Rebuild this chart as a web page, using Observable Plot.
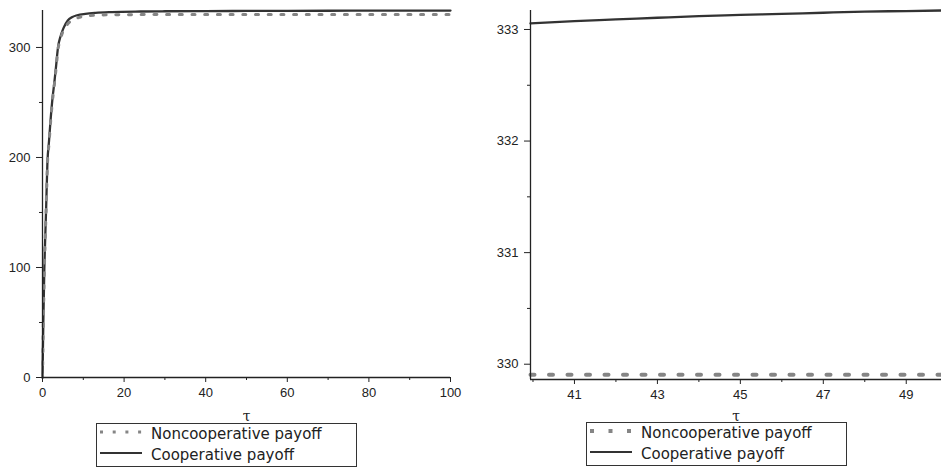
<!DOCTYPE html>
<html>
<head>
<meta charset="utf-8">
<script src="https://cdn.jsdelivr.net/npm/d3@7"></script>
<script src="https://cdn.jsdelivr.net/npm/@observablehq/plot@0.6"></script>
<style>
  html, body { margin: 0; padding: 0; background: #fff; }
  #wrap { position: relative; width: 941px; height: 470px; overflow: hidden; background: #fff; }
  .panel { position: absolute; top: 0; }
  .legend { position: absolute; box-sizing: border-box; border: 1px solid #333; background: #fff;
            font-family: "DejaVu Sans", sans-serif; font-size: 15px; color: #222; }
  .row { position: relative; height: 21px; line-height: 21px; white-space: nowrap; }
  .row svg { position: absolute; left: 3px; top: 0; }
  .row span { position: absolute; top: 0; }
</style>
</head>
<body>
<div id="wrap">
  <div id="left" class="panel" style="left:0px"></div>
  <div id="right" class="panel" style="left:470px"></div>
</div>
<script>
// ---- data ----
const seriesNames = ["Noncooperative payoff", "Cooperative payoff"];
const axisLabel = "τ";

// left panel: full horizon
const leftTau      = [0, 0.2, 0.45, 0.65, 0.9, 1.2, 1.6, 2.0, 2.4, 2.9, 3.3, 3.8, 4.5, 5.2, 6.2, 7.2, 8.5, 10.5, 13, 17, 24, 30, 40, 50, 60, 70, 80, 90, 100];
const leftCoop     = [0, 49, 99, 125, 155, 195, 215, 235, 252, 268, 282, 300, 311, 318, 324.5, 327.5, 329.3, 330.6, 331.5, 332.2, 332.7, 332.9, 333.055, 333.17, 333.28, 333.37, 333.44, 333.5, 333.55];
const leftNoncoop  = [0, 48, 98, 124, 154, 193, 213, 233, 250, 266, 280, 298, 309, 316, 321.5, 324.5, 326.8, 328.5, 329.3, 329.7, 329.85, 329.9, 329.91, 329.91, 329.91, 329.91, 329.91, 329.91, 329.91];
const leftXDomain  = [0, 100];
const leftYDomain  = [0, 333.6];
const leftXMajor   = [0, 20, 40, 60, 80, 100];
const leftXMinor   = [10, 30, 50, 70, 90];
const leftYMajor   = [0, 100, 200, 300];
const leftYMinor   = [50, 150, 250];

// right panel: zoom on 40..50
const rightTau     = [39.94, 41, 42, 43, 44, 45, 46, 47, 48, 49, 49.85];
const rightCoop    = [333.055, 333.075, 333.09, 333.105, 333.12, 333.13, 333.14, 333.15, 333.16, 333.165, 333.17];
const rightNoncoop = [329.906, 329.906, 329.906, 329.906, 329.906, 329.906, 329.906, 329.906, 329.906, 329.906, 329.906];
const rightXDomain = [39.94, 49.85];
const rightYDomain = [329.863, 333.17];
const rightXMajor  = [41, 43, 45, 47, 49];
const rightXMinor  = [40, 42, 44, 46, 48];
const rightYMajor  = [330, 331, 332, 333];
const rightYMinor  = [330.5, 331.5, 332.5];

const rows = (xs, ys) => xs.map((t, i) => ({t, v: ys[i]}));

function panel(o) {
  return Plot.plot({
    width: o.width, height: 432,
    marginLeft: o.ml, marginRight: o.mr, marginTop: 10, marginBottom: o.mb,
    style: {fontFamily: "Liberation Sans, Arial, sans-serif", fontSize: "13px", color: "#222", background: "transparent", overflow: "visible"},
    x: {domain: o.xd},
    y: {domain: o.yd},
    marks: [
      Plot.line(rows(o.tau, o.coop), {x: "t", y: "v", stroke: "#333", strokeWidth: 2.3, curve: "monotone-x"}),
      Plot.line(rows(o.tau, o.non), {x: "t", y: "v", stroke: "#858585", strokeWidth: o.dotW, strokeDasharray: o.dash, curve: "monotone-x"}),
      Plot.axisY(o.yMaj, {tickSize: 6, tickPadding: 6, label: null, tickFormat: d => String(d)}),
      Plot.axisY(o.yMin, {tickSize: 3, tickFormat: () => "", label: null}),
      Plot.axisX(o.xMaj, {tickSize: 5, tickPadding: 5, label: null, tickFormat: d => String(d)}),
      Plot.axisX(o.xMin, {tickSize: 3, tickFormat: () => "", label: null}),
      Plot.ruleX([o.xd[0]], {stroke: "#222", strokeWidth: 1.3}),
      Plot.ruleY([o.yd[0]], {stroke: "#222", strokeWidth: 1.3}),
      Plot.text([axisLabel], {frameAnchor: "bottom", lineAnchor: "middle", dy: o.ldy, fontFamily: "DejaVu Serif, serif", fontSize: 14, fill: "#222"})
    ]
  });
}

document.getElementById("left").appendChild(panel({
  width: 470, ml: 42, mr: 20, mb: 55, xd: leftXDomain, yd: leftYDomain,
  tau: leftTau, coop: leftCoop, non: leftNoncoop, dotW: 3, dash: "3,9.7",
  xMaj: leftXMajor, xMin: leftXMinor, yMaj: leftYMajor, yMin: leftYMinor, ldy: 39
}));
document.getElementById("right").appendChild(panel({
  width: 471, ml: 60, mr: 0, mb: 53, xd: rightXDomain, yd: rightYDomain,
  tau: rightTau, coop: rightCoop, non: rightNoncoop, dotW: 4, dash: "4,14.5",
  xMaj: rightXMajor, xMin: rightXMinor, yMaj: rightYMajor, yMin: rightYMinor, ldy: 37
}));

function legend(left, top, dotW, dash) {
  const box = document.createElement("div");
  box.className = "legend";
  box.style.left = left + "px";
  box.style.top = top + "px";
  box.style.width = "261px";
  box.style.height = "44px";
  const samples = [
    `<line x1="0" x2="42" y1="8" y2="8" stroke="#858585" stroke-width="${dotW}" stroke-dasharray="${dash}"/>`,
    `<line x1="0" x2="42" y1="8" y2="8" stroke="#333" stroke-width="2"/>`
  ];
  seriesNames.forEach((name, i) => {
    const r = document.createElement("div");
    r.className = "row";
    r.innerHTML = `<svg width="44" height="21">${samples[i]}</svg><span style="left:54px">${name}</span>`;
    box.appendChild(r);
  });
  document.getElementById("wrap").appendChild(box);
}
legend(96, 423, 3, "3,9.7");
legend(586, 422, 4, "4,14.5");
</script>
</body>
</html>
